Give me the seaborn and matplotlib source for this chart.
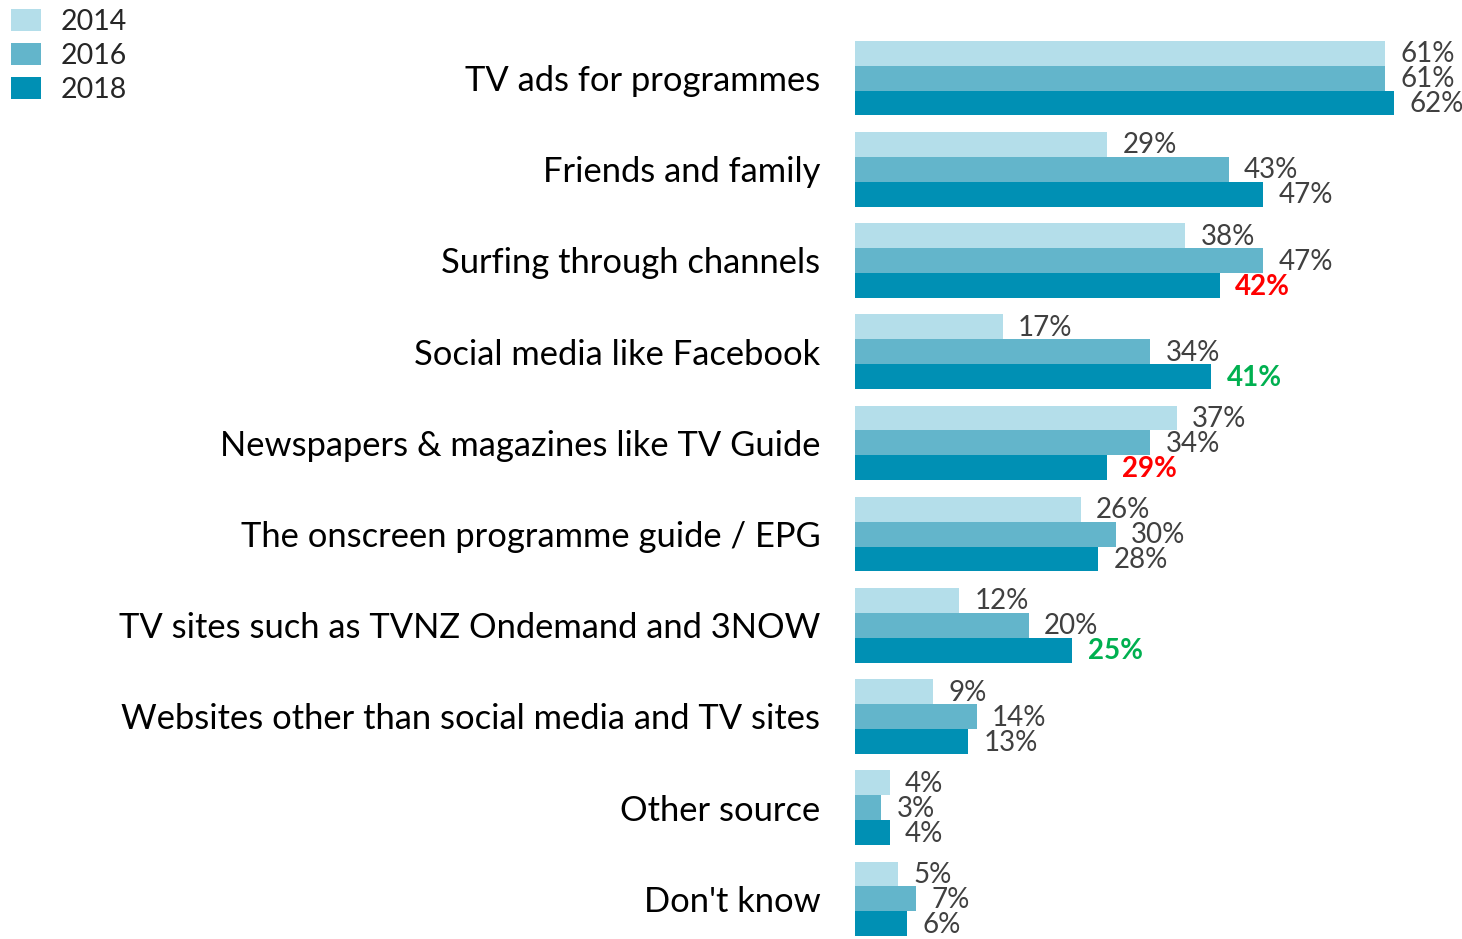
import matplotlib
matplotlib.use("Agg")
import matplotlib.pyplot as plt
import seaborn as sns
import pandas as pd
from matplotlib.patches import Patch

categories = [
    "TV ads for programmes",
    "Friends and family",
    "Surfing through channels",
    "Social media like Facebook",
    "Newspapers & magazines like TV Guide",
    "The onscreen programme guide / EPG",
    "TV sites such as TVNZ Ondemand and 3NOW",
    "Websites other than social media and TV sites",
    "Other source",
    "Don't know",
]
years = ["2014", "2016", "2018"]
values_2014 = [61, 29, 38, 17, 37, 26, 12, 9, 4, 5]
values_2016 = [61, 43, 47, 34, 34, 30, 20, 14, 3, 7]
values_2018 = [62, 47, 42, 41, 29, 28, 25, 13, 4, 6]

# highlighted 2018 changes: (category, colour)
highlights = {
    "Surfing through channels": "#FF0000",
    "Social media like Facebook": "#00B050",
    "Newspapers & magazines like TV Guide": "#FF0000",
    "TV sites such as TVNZ Ondemand and 3NOW": "#00B050",
}

palette = {"2014": "#B4DEEA", "2016": "#63B5CB", "2018": "#0090B4"}

df = pd.DataFrame({
    "source": categories * 3,
    "year": [y for y in years for _ in categories],
    "value": values_2014 + values_2016 + values_2018,
})

sns.set_theme(style="white")
plt.rcParams["font.family"] = ["Lato", "DejaVu Sans"]

fig = plt.figure(figsize=(14.62, 9.39), dpi=100)
ax = fig.add_axes([855 / 1462, -5.5 / 939, 607 / 1462, 912 / 939])

sns.barplot(data=df, y="source", x="value", hue="year", order=categories,
            hue_order=years, palette=palette, orient="h", width=0.82,
            saturation=1, ax=ax, legend=False, linewidth=0)

ax.set_xlim(0, 607 / 8.69)
ax.set_ylim(len(categories) - 0.5, -0.5)
ax.set_xlabel("")
ax.set_ylabel("")
ax.set_xticks([])
for s in ax.spines.values():
    s.set_visible(False)
ax.tick_params(axis="y", length=0, pad=25, labelsize=24.8, labelcolor="black")

for cont, yr in zip(ax.containers, years):
    texts = ax.bar_label(cont, labels=[f"{v:.0f}%" for v in cont.datavalues],
                         padding=11, fontsize=20, color="#404040")
    for t in texts:
        t.xyann = (11, -0.8)
    if yr == "2018":
        for t, cat in zip(texts, categories):
            if cat in highlights:
                t.set_color(highlights[cat])
                t.set_fontweight("bold")

handles = [Patch(facecolor=palette[y], edgecolor="none") for y in years]
fig.legend(handles, years, loc="upper left", bbox_to_anchor=(0.0, 1.003),
           frameon=False, fontsize=20.5, handlelength=1.05, handleheight=0.8,
           handletextpad=0.68, labelspacing=0.28, borderaxespad=0.0)

fig.savefig("out.png", dpi=100)
